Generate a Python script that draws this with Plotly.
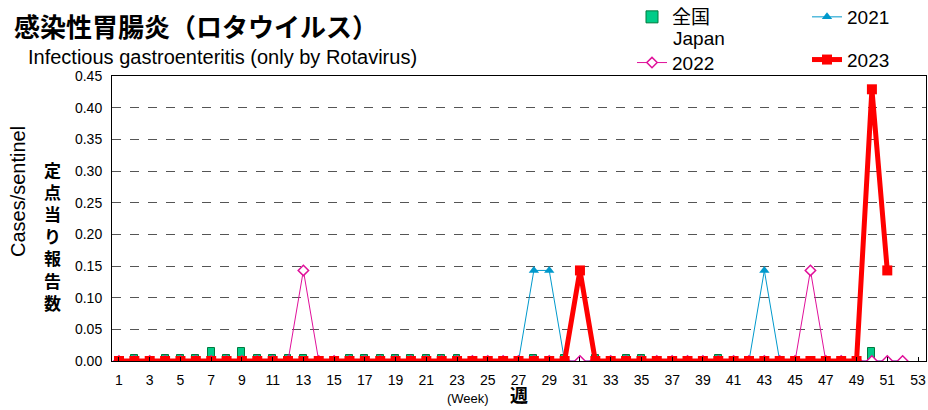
import plotly.graph_objects as go

weeks = list(range(1, 54))
tick_weeks = list(range(1, 54, 2))

national_weeks = list(range(1, 52))
national = [0, .01, 0, .01, .01, .01, .02, .01, .02, .01,
            .01, .01, .01, 0, 0, .01, .01, .01, .01, .01,
            .01, .01, .01, 0, 0, 0, 0, .01, 0, .01,
            0, .01, 0, .01, .01, 0, 0, 0, 0, .01,
            0, 0, 0, 0, 0, 0, 0, 0, 0, .02,
            0]

y2021_weeks = list(range(1, 53))
y2021 = [0] * 52
y2021[28 - 1] = 0.143
y2021[29 - 1] = 0.143
y2021[43 - 1] = 0.143

y2022_weeks = list(range(1, 53))
y2022 = [0] * 52
y2022[13 - 1] = 0.143
y2022[46 - 1] = 0.143

y2023_weeks = list(range(1, 52))
y2023 = [0] * 51
y2023[31 - 1] = 0.143
y2023[50 - 1] = 0.429
y2023[51 - 1] = 0.143

y_ticks = [0, 0.05, 0.10, 0.15, 0.20, 0.25, 0.30, 0.35, 0.40, 0.45]

FONT = "Liberation Sans, Arial, sans-serif"
CJK = "Noto Sans CJK JP, sans-serif"

W, H = 928, 410
PT, PB, PL, PR = 76, 361, 112, 926   # plot area edges in window pixels
PH = PB - PT
PW = PR - PL


def py(page_y):
    """window pixel y -> paper y"""
    return (PB - page_y) / PH


def px(page_x):
    """window pixel x -> paper x"""
    return (page_x - PL) / PW


fig = go.Figure()
fig.add_trace(go.Bar(
    x=national_weeks, y=national, name="全国", width=0.45,
    marker=dict(color="#00CC88", line=dict(color="#007A3D", width=1)),
    legend="legend", legendgroup="a",
))
fig.add_trace(go.Scatter(
    x=y2021_weeks, y=y2021, name="2021", mode="lines+markers",
    line=dict(color="#0099CC", width=1),
    marker=dict(symbol="triangle-up", size=9, color="#0099CC"),
    legend="legend2", legendgroup="b",
))
fig.add_trace(go.Scatter(
    x=y2022_weeks, y=y2022, name="2022", mode="lines+markers",
    line=dict(color="#E0109A", width=1),
    marker=dict(symbol="diamond", size=8, color="white",
                line=dict(color="#E0109A", width=1.5)),
    legend="legend", legendgroup="c",
))
fig.add_trace(go.Scatter(
    x=y2023_weeks, y=y2023, name="2023", mode="lines+markers",
    line=dict(color="#FF0000", width=5),
    marker=dict(symbol="square", size=10, color="#FF0000"),
    legend="legend2", legendgroup="d",
))

legend_common = dict(
    orientation="v", xref="paper", yref="paper",
    xanchor="left", yanchor="top",
    font=dict(family=FONT + ", " + CJK, size=19),
    bgcolor="rgba(0,0,0,0)", traceorder="grouped",
)

fig.update_layout(
    width=W, height=H,
    margin=dict(l=PL, r=W - PR, t=PT, b=H - PB, autoexpand=False),
    paper_bgcolor="white", plot_bgcolor="white",
    font=dict(family=FONT, color="black", size=14),
    bargap=0,
    legend=dict(x=px(632), y=py(-2), tracegroupgap=18, **legend_common),
    legend2=dict(x=px(807), y=py(-2), tracegroupgap=15, **legend_common),
    xaxis=dict(
        range=[0.545, 53.52], tickmode="array", tickvals=tick_weeks,
        ticktext=[str(w) for w in tick_weeks],
        showgrid=False, zeroline=False,
        showline=True, linecolor="black", linewidth=1, mirror=True,
        ticks="inside", ticklen=4, tickcolor="black",
        tickfont=dict(size=14), ticklabelstandoff=6,
        ticklabeloverflow="allow",
    ),
    yaxis=dict(
        range=[0, 0.45], tickmode="array", tickvals=y_ticks,
        tickformat=".2f", showgrid=True, gridcolor="#555555",
        griddash="dash", gridwidth=1, zeroline=False,
        showline=True, linecolor="black", linewidth=1, mirror=True,
        tickfont=dict(size=14), ticks="", ticklabelstandoff=6,
    ),
    annotations=[
        dict(text="<b>感染性胃腸炎（ロタウイルス）</b>", xref="paper", yref="paper",
             x=px(12), y=py(25), xanchor="left", yanchor="middle",
             showarrow=False, font=dict(family=CJK, size=26, color="black")),
        dict(text="Infectious gastroenteritis (only by Rotavirus)", xref="paper", yref="paper",
             x=px(26), y=py(57), xanchor="left", yanchor="middle",
             showarrow=False, font=dict(family=FONT, size=20, color="black")),
        dict(text="Japan", xref="paper", yref="paper",
             x=px(671), y=py(38), xanchor="left", yanchor="middle",
             showarrow=False, font=dict(family=FONT, size=19, color="black")),
        dict(text="Cases/sentinel", xref="paper", yref="paper", textangle=-90,
             x=px(18), y=py(192), xanchor="center", yanchor="middle",
             showarrow=False, font=dict(family=FONT, size=20, color="black")),
        dict(text="<b>定<br>点<br>当<br>り<br>報<br>告<br>数</b>", xref="paper", yref="paper",
             x=px(52), y=py(236), xanchor="center", yanchor="middle",
             showarrow=False, font=dict(family=CJK, size=17, color="black")),
        dict(text="(Week)", xref="paper", yref="paper",
             x=px(468), y=py(398), xanchor="center", yanchor="middle",
             showarrow=False, font=dict(family=FONT, size=13, color="black")),
        dict(text="<b>週</b>", xref="paper", yref="paper",
             x=px(519), y=py(394), xanchor="center", yanchor="middle",
             showarrow=False, font=dict(family=CJK, size=18, color="black")),
    ],
)

fig.write_html(
    "out.html",
    config={"displayModeBar": False},
    post_script="document.body.style.margin='0';document.body.style.overflow='hidden';",
)
